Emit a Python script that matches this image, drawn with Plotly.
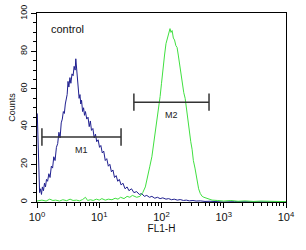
import math
import plotly.graph_objects as go

# Control (blue) histogram
blue_x = [1.01, 1.04, 1.07, 1.10, 1.14, 1.18, 1.22, 1.27, 1.32, 1.37, 1.42, 1.48, 1.55, 1.62,
          1.70, 1.78, 1.86, 1.95, 2.05, 2.15, 2.25, 2.35, 2.45, 2.55, 2.65, 2.75, 2.85, 2.95,
          3.05, 3.15, 3.25, 3.38, 3.5, 3.65, 3.8, 3.95, 4.1, 4.2, 4.3, 4.45, 4.6, 4.75, 4.9,
          5.05, 5.2, 5.4, 5.6, 5.8, 6.0, 6.3, 6.6, 6.9, 7.2, 7.5, 7.9, 8.3, 8.7, 9.1, 9.6,
          10.1, 10.6, 11.2, 11.8, 12.5, 13.2, 14.0, 14.8, 15.7, 16.6, 17.6, 18.7, 19.8, 21,
          22.5, 24, 26, 28, 30, 33, 36, 40, 44, 48, 53, 58, 64, 70, 78, 86, 95, 105, 118, 130,
          145, 160, 180, 200, 225, 250, 280, 320, 360, 420, 500, 600, 700, 850, 1000, 1500,
          2500, 4000, 6000, 10000]
blue_y = [47, 30, 8, 5, 7, 4, 8, 6, 10, 8, 12, 11, 15, 13,
          19, 18, 24, 22, 29, 31, 37, 34, 42, 44, 48, 47, 52, 55,
          57, 64, 61, 66, 63, 68, 67, 72, 70, 76, 71, 64, 62, 55, 57,
          52, 54, 48, 50, 46, 48, 44, 45, 40, 43, 38, 39, 34, 36, 32, 33,
          29, 30, 26, 27, 22, 23, 19, 20, 16, 17, 13, 14, 11, 12,
          9, 10, 7, 8, 6, 7, 5, 5.5, 4, 4.5, 3, 3.5, 2.5, 3, 2, 2.5, 1.8, 2.2, 1.5, 1.8,
          1.2, 1.5, 1, 1.3, 0.8, 1, 0.6, 0.8, 0.5, 0.6, 0.3, 0.4, 0.2, 0.1, 0, 0.2,
          0, 0.1, 0, 0]

# Sample (green) histogram
green_x = [1.0, 1.2, 1.4, 1.6, 1.8, 2.0, 2.3, 2.6, 3.0, 3.4, 3.8, 4.3, 4.8, 5.4, 6.0, 6.5,
           7.2, 8, 9, 10, 11, 12.5, 14, 16, 18, 20, 22, 25, 28, 31, 34, 37, 40, 45, 50, 55,
           60, 65, 70, 75, 80, 85, 90, 95, 100, 105, 112, 118, 124, 130, 137, 142, 148, 155,
           162, 170, 178, 186, 195, 205, 215, 228, 240, 252, 265, 280, 295, 310, 325, 345,
           370, 395, 420, 450, 480, 520, 570, 650, 800, 1000, 1300, 1700, 2200, 3000, 4000,
           6000, 8000, 10000]
green_y = [0.5, 1, 0.5, 1.5, 0.8, 1, 0.5, 1.2, 0.7, 1.5, 0.8, 1, 0.6, 1.3, 2.5, 0.8,
           1.2, 0.8, 1.5, 1, 1.8, 1, 1.5, 1.2, 2, 1.5, 2.5, 1.8, 3, 2.5, 3.5, 3, 2.5, 3, 5, 8,
           13, 19, 24, 31, 36, 43, 49, 56, 63, 71, 78, 84, 87, 90, 92, 90, 91, 87,
           86, 83, 82, 78, 73, 68, 64, 58, 55, 49, 43, 37, 32, 28, 22, 18,
           11, 7, 4.5, 3, 2.5, 2, 1.5, 1, 0.8, 0.5, 0.8, 0.4, 0.6, 0.3, 0.5,
           0.3, 0.4, 0.2]

# Gate markers
gate_names = ["M1", "M2"]
gate_lo = [1.2, 36]
gate_hi = [22.4, 580]
gate_y = [34.5, 53]

x_tickvals = [1, 10, 100, 1000, 10000]
x_ticktext = ["10<sup>0</sup>", "10<sup>1</sup>", "10<sup>2</sup>", "10<sup>3</sup>", "10<sup>4</sup>"]
y_tickvals = [0, 20, 40, 60, 80, 100]

FONT = "Liberation Sans, Arial, sans-serif"

fig = go.Figure()
fig.add_trace(go.Scatter(x=blue_x, y=blue_y, mode="lines",
                         line=dict(color="#1f1f8f", width=1), showlegend=False))
fig.add_trace(go.Scatter(x=green_x, y=green_y, mode="lines",
                         line=dict(color="#40e040", width=1), showlegend=False))

cap = 4.6
for name, lo, hi, gy in zip(gate_names, gate_lo, gate_hi, gate_y):
    fig.add_trace(go.Scatter(x=[lo, hi], y=[gy, gy], mode="lines",
                             line=dict(color="#333333", width=1.5), showlegend=False))
    for xe in (lo, hi):
        fig.add_trace(go.Scatter(x=[xe, xe], y=[gy - cap, gy + cap], mode="lines",
                                 line=dict(color="#333333", width=1.5), showlegend=False))
    fig.add_annotation(x=(math.log10(lo) + math.log10(hi)) / 2, y=gy - 7, xref="x", yref="y",
                       text=name, showarrow=False,
                       font=dict(family=FONT, size=9, color="#222222"))

fig.add_annotation(x=0.05, y=0.875, xref="paper", yref="paper", xanchor="left", yanchor="bottom",
                   text="control", showarrow=False,
                   font=dict(family=FONT, size=11, color="#111111"))

minor_vals = [m * 10 ** d for d in range(4) for m in range(2, 10)]

fig.update_xaxes(type="log", range=[0, 4], tickvals=x_tickvals, ticktext=x_ticktext,
                 ticks="outside", ticklen=5, tickcolor="black", ticklabeloverflow="allow",
                 minor=dict(tickvals=minor_vals, ticks="outside", ticklen=3, tickcolor="black"),
                 showline=True, linecolor="black", linewidth=1, mirror=True,
                 showgrid=False, zeroline=False,
                 tickfont=dict(family=FONT, size=11, color="#111111"),
                 title=dict(text="FL1-H", font=dict(family=FONT, size=10, color="#111111"), standoff=2))
fig.update_yaxes(range=[0, 100.3], tickvals=y_tickvals, tickangle=-90,
                 ticks="outside", ticklen=5, tickcolor="black", ticklabeloverflow="allow",
                 minor=dict(dtick=5, ticks="outside", ticklen=3, tickcolor="black"),
                 showline=True, linecolor="black", linewidth=1, mirror=True,
                 showgrid=False, zeroline=False,
                 tickfont=dict(family=FONT, size=9, color="#111111"),
                 title=dict(text="Counts", font=dict(family=FONT, size=9, color="#111111"), standoff=2))

fig.update_layout(width=306, height=250, margin=dict(l=37, r=20, t=5, b=48),
                  plot_bgcolor="white", paper_bgcolor="white")

fig.write_html("out.html")
